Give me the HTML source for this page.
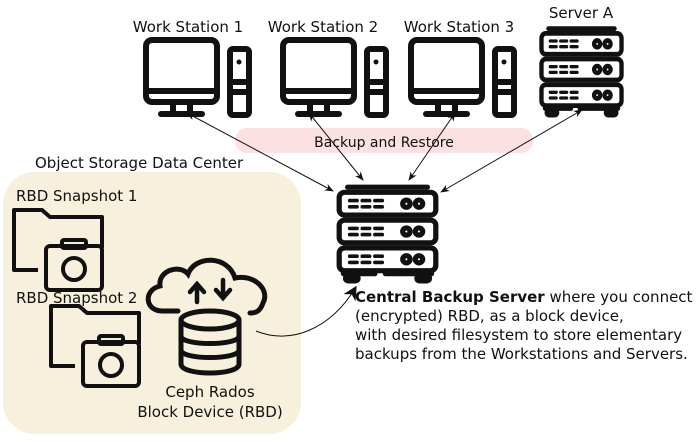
<!DOCTYPE html>
<html><head><meta charset="utf-8"><style>
body{margin:0;background:#fff;}
svg text{font-family:"DejaVu Sans","Liberation Sans",sans-serif;fill:#111;}
</style></head><body>
<svg width="700" height="437" viewBox="0 0 700 437" xmlns="http://www.w3.org/2000/svg">
<defs>
<marker id="ah" viewBox="0 0 10 10" refX="9" refY="5" markerWidth="9" markerHeight="9" orient="auto-start-reverse" markerUnits="userSpaceOnUse">
<path d="M0,1 L10,5 L0,9 L3,5 Z" fill="#111"/></marker>
<marker id="ahb" viewBox="0 0 10 10" refX="9" refY="5" markerWidth="14" markerHeight="14" orient="auto" markerUnits="userSpaceOnUse">
<path d="M0,0 L10,5 L0,10 L3,5 Z" fill="#111"/></marker>
<g id="ws" fill="none" stroke="#111" stroke-width="6" stroke-linejoin="round">
<rect x="3" y="3" width="71" height="62" rx="6"/>
<line x1="3" y1="54" x2="74" y2="54"/>
<line x1="30" y1="65" x2="30" y2="75"/><line x1="47" y1="65" x2="47" y2="75"/>
<line x1="18" y1="77" x2="59" y2="77" stroke-linecap="round"/>
<rect x="87" y="12" width="19" height="66" rx="3"/>
<line x1="87" y1="45" x2="106" y2="45"/><line x1="87" y1="55" x2="106" y2="55"/>
<circle cx="96" cy="25" r="2.5" fill="#111" stroke="none"/>
</g>
<g id="srv" fill="none" stroke="#111" stroke-width="5" stroke-linecap="round">
<path d="M12,7 h76"/>
<rect x="4" y="12" width="92" height="22" rx="5"/>
<rect x="4" y="39" width="92" height="22" rx="5"/>
<rect x="4" y="66" width="92" height="22" rx="5"/>
<path d="M8,91 h30 M48,91 h44"/>
<rect x="10" y="93" width="12" height="5" rx="2.5"/><rect x="78" y="93" width="12" height="5" rx="2.5"/>
<g id="row"><path d="M14,20 h7 M26,20 h7 M38,20 h7 M14,26 h7 M26,26 h7 M38,26 h7" stroke-width="3.5"/>
<circle cx="68" cy="23" r="3.5"/><circle cx="80" cy="23" r="3.5"/></g>
<use href="#row" y="27"/><use href="#row" y="54"/>
</g>
<g id="snap" fill="none" stroke="#111" stroke-width="4" stroke-linejoin="round">
<path d="M26,62 H2 V2 H30 L38,9 H90 V40"/>
<rect x="34" y="38" width="56" height="44" rx="4" fill="#f6f0dc"/>
<rect x="50" y="32" width="24" height="8" rx="2"/>
<circle cx="62" cy="61" r="11"/>
</g>
</defs>

<rect x="3" y="172" width="298" height="262" rx="32" fill="#f6f0dc"/>
<rect x="235" y="128" width="298" height="25" rx="12" fill="#fbe1e1"/>

<text x="188" y="32" font-size="15" text-anchor="middle">Work Station 1</text>
<text x="323" y="32" font-size="15" text-anchor="middle">Work Station 2</text>
<text x="459" y="32" font-size="15" text-anchor="middle">Work Station 3</text>
<text x="581" y="18" font-size="15" text-anchor="middle">Server A</text>
<use href="#ws" x="143" y="37"/>
<use href="#ws" x="280" y="37"/>
<use href="#ws" x="408" y="37"/>
<use href="#srv" transform="translate(538,22) scale(0.87,0.95)"/>
<use href="#srv" transform="translate(335,180) scale(1.05,1.03)"/>

<text x="384" y="147" font-size="14" text-anchor="middle">Backup and Restore</text>
<g stroke="#111" stroke-width="1" fill="none">
<line x1="333" y1="191" x2="187" y2="113" marker-start="url(#ah)" marker-end="url(#ah)"/>
<line x1="363" y1="180" x2="309" y2="113" marker-start="url(#ah)" marker-end="url(#ah)"/>
<line x1="409" y1="180" x2="455" y2="113" marker-start="url(#ah)" marker-end="url(#ah)"/>
<line x1="441" y1="192" x2="582" y2="110" marker-start="url(#ah)" marker-end="url(#ah)"/>
<path d="M256,331 C290,345 330,330 356,287" marker-end="url(#ahb)"/>
</g>

<text x="35" y="168" font-size="15">Object Storage Data Center</text>
<text x="16" y="201" font-size="15">RBD Snapshot 1</text>
<text x="16" y="303" font-size="15">RBD Snapshot 2</text>
<use href="#snap" x="12" y="208"/>
<use href="#snap" x="49" y="304"/>

<g fill="none" stroke="#111" stroke-width="5" stroke-linecap="round">
<path d="M178,311 H162 C145,311 143,290 160,286 C158,270 180,264 188,274 C195,255 228,255 235,278 C255,274 270,290 263,303 C260,312 255,313 250,313"/>
<path d="M197,302 V285 M190,292 L197,284 L204,292" stroke-width="4.5"/>
<path d="M223,280 V297 M216,290 L223,298 L230,290" stroke-width="4.5"/>
<ellipse cx="210" cy="320" rx="29" ry="9"/>
<path d="M181,320 V364 C181,376 239,376 239,364 V320"/>
<path d="M181,336 C181,346 239,346 239,336 M181,350 C181,360 239,360 239,350"/>
</g>
<text x="210" y="397" font-size="15" text-anchor="middle">Ceph Rados</text>
<text x="210" y="417" font-size="15" text-anchor="middle">Block Device (RBD)</text>

<g font-size="15">
<text x="355" y="302"><tspan font-weight="bold">Central Backup Server</tspan> where you connect</text>
<text x="355" y="321">(encrypted) RBD, as a block device,</text>
<text x="355" y="340">with desired filesystem to store elementary</text>
<text x="355" y="359">backups from the Workstations and Servers.</text>
</g>
</svg>
</body></html>
